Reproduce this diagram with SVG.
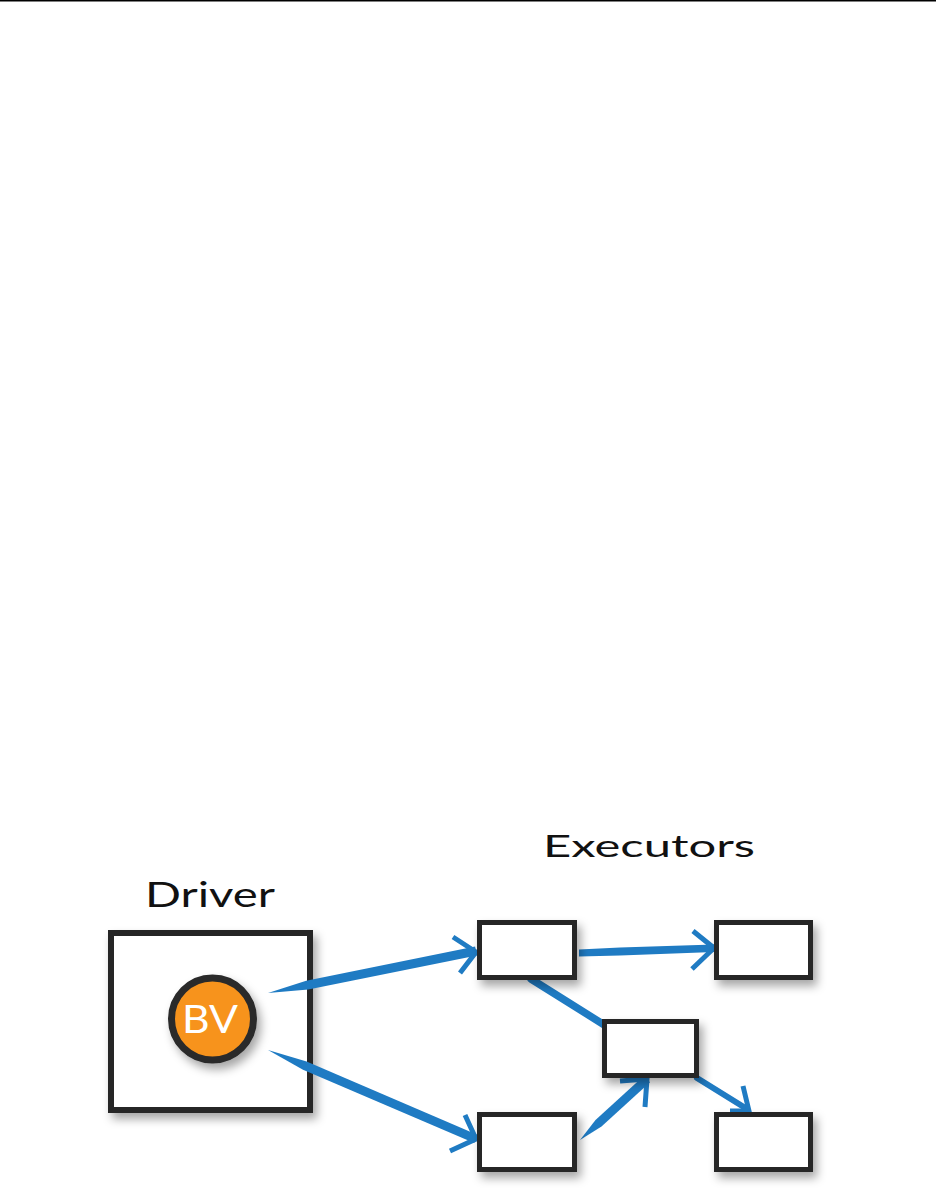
<svg xmlns="http://www.w3.org/2000/svg" width="936" height="1203" viewBox="0 0 936 1203">
<defs>
<filter id="sh" x="-20%" y="-20%" width="150%" height="160%">
<feDropShadow dx="4" dy="6" stdDeviation="5" flood-color="#000" flood-opacity="0.35"/>
</filter>
<style>
.box{fill:#fff;stroke:#262626;stroke-width:5;filter:url(#sh)}
.lbl{font-family:"Lato","Open Sans","DejaVu Sans",sans-serif;font-weight:400;fill:#111}
.shaft{fill:#1f7bc3}
.ln{fill:none;stroke:#1f7bc3;stroke-linecap:round;stroke-linejoin:round}
.head{fill:none;stroke:#1f7bc3;stroke-width:5;stroke-linecap:butt;stroke-linejoin:miter}
</style>
</defs>
<rect x="0" y="0" width="936" height="1203" fill="#fff"/>
<rect x="0" y="0" width="936" height="1.5" fill="#000"/>

<g id="driver">
<rect class="box" x="111" y="933" width="199" height="177" style="stroke-width:6"/>
<text class="lbl" x="145" y="907" font-size="35" textLength="130" lengthAdjust="spacingAndGlyphs">Driver</text>
</g>

<g id="bv">
<circle cx="212.5" cy="1019" r="41" fill="#f7931e" stroke="#2a2a2a" stroke-width="7" filter="url(#sh)"/>
<text class="lbl" x="182" y="1033" font-size="39" textLength="56" lengthAdjust="spacingAndGlyphs" style="fill:#fff">BV</text>
</g>

<g id="executors-label">
<text class="lbl" x="543" y="857" font-size="31" textLength="212" lengthAdjust="spacingAndGlyphs">Executors</text>
</g>

<g id="connectors">
<polygon class="shaft" points="268,993 306.2,980.8 475.1,946.6 476.9,955.4 308.3,989.6"/>
<path class="head" d="M453,937 L476,952 L460,973"/>
<polygon class="shaft" points="268,1050 306.6,1061.6 477.8,1134.9 474.2,1143.1 303,1069.8"/>
<path class="head" d="M465,1115 L476,1139 L450,1151"/>
<polygon class="shaft" points="579,949.5 620,947.5 714,944.5 714,952 620,955.5 579,956.5"/>
<path class="head" d="M693,931 L714,948 L692,969"/>
<line class="ln" x1="531" y1="979" x2="606" y2="1026" stroke-width="7.5"/>
<polygon class="shaft" points="580,1140 601.5,1126.5 650,1082.3 644,1075.7 595.5,1119.9"/>
<path class="head" d="M620,1081 L647,1079 L645,1107"/>
<line class="ln" x1="697" y1="1078" x2="747" y2="1109" stroke-width="6"/>
<path class="head" d="M743,1086 L749,1111 L730,1111"/>
</g>

<g id="exec-a"><rect class="box" x="479.5" y="922.5" width="95" height="55"/></g>
<g id="exec-b"><rect class="box" x="716.5" y="922.5" width="94" height="55"/></g>
<g id="exec-c"><rect class="box" x="604.5" y="1021.5" width="92" height="54"/></g>
<g id="exec-d"><rect class="box" x="479.5" y="1114.5" width="95" height="55"/></g>
<g id="exec-e"><rect class="box" x="716.5" y="1114.5" width="94" height="55"/></g>
</svg>
